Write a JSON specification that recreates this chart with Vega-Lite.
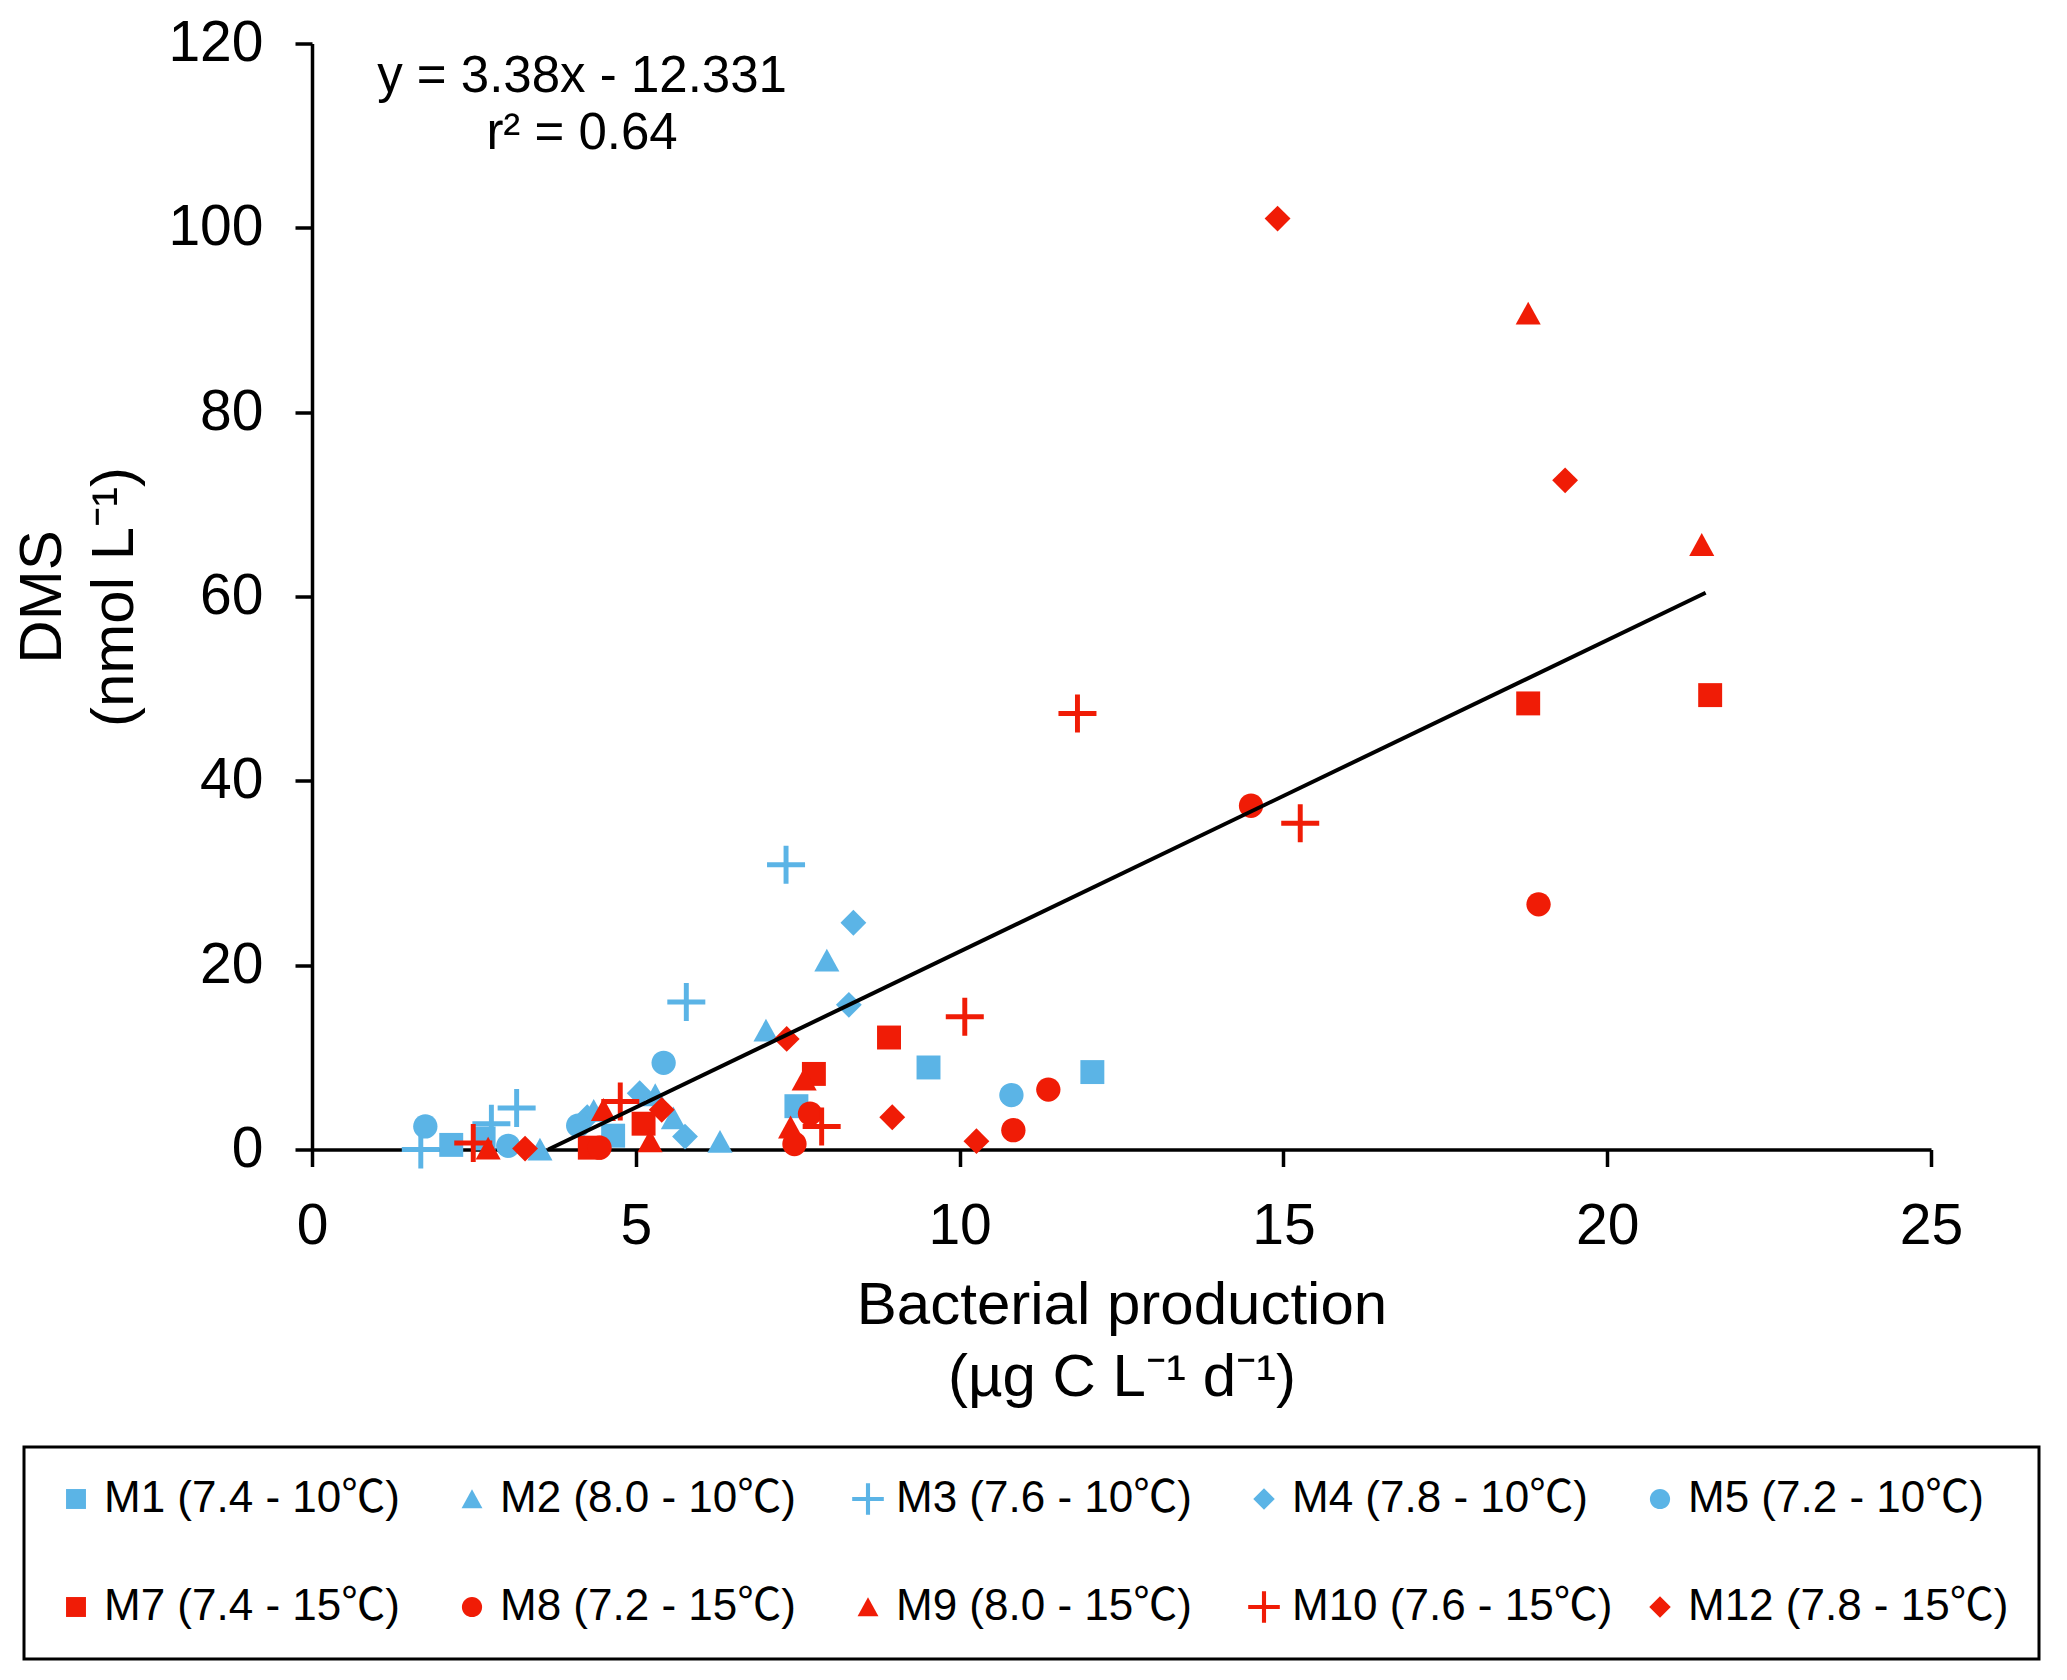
{
  "$schema": "https://vega.github.io/schema/vega-lite/v6.json",
  "width": 1619,
  "height": 1106,
  "autosize": {"type": "none"},
  "padding": {"left": 312, "top": 43.5, "right": 136, "bottom": 530.5},
  "background": "white",
  "config": {
    "font": "Liberation Sans",
    "view": {"stroke": null},
    "legend": {"strokeWidth": 3},
    "axis": {
      "grid": false,
      "labelFlush": false,
      "domainColor": "black",
      "domainWidth": 3.5,
      "tickColor": "black",
      "tickWidth": 3.5,
      "tickSize": 17,
      "labelFont": "Liberation Sans",
      "labelFontSize": 57,
      "labelColor": "black",
      "labelPadding": 32,
      "titleFont": "Liberation Sans",
      "titleFontSize": 60,
      "titleFontWeight": "normal",
      "titleColor": "black"
    }
  },
  "datasets": {
    "points": [
      {"series": "M1 (7.4 - 10℃)", "bp": 2.15, "dms": 0.5},
      {"series": "M1 (7.4 - 10℃)", "bp": 2.65, "dms": 1.2},
      {"series": "M1 (7.4 - 10℃)", "bp": 4.65, "dms": 1.5},
      {"series": "M1 (7.4 - 10℃)", "bp": 7.48, "dms": 4.7},
      {"series": "M1 (7.4 - 10℃)", "bp": 9.52, "dms": 8.9},
      {"series": "M1 (7.4 - 10℃)", "bp": 12.05, "dms": 8.4},
      {"series": "M2 (8.0 - 10℃)", "bp": 3.52, "dms": 0},
      {"series": "M2 (8.0 - 10℃)", "bp": 4.35, "dms": 4.2},
      {"series": "M2 (8.0 - 10℃)", "bp": 5.3, "dms": 5.9},
      {"series": "M2 (8.0 - 10℃)", "bp": 5.58, "dms": 3.4},
      {"series": "M2 (8.0 - 10℃)", "bp": 6.3, "dms": 0.85},
      {"series": "M2 (8.0 - 10℃)", "bp": 7.01, "dms": 12.9},
      {"series": "M2 (8.0 - 10℃)", "bp": 7.95, "dms": 20.5},
      {"series": "M3 (7.6 - 10℃)", "bp": 1.68, "dms": 0},
      {"series": "M3 (7.6 - 10℃)", "bp": 2.77, "dms": 2.8},
      {"series": "M3 (7.6 - 10℃)", "bp": 3.16, "dms": 4.5},
      {"series": "M3 (7.6 - 10℃)", "bp": 5.78, "dms": 16.0},
      {"series": "M3 (7.6 - 10℃)", "bp": 7.32, "dms": 30.9},
      {"series": "M4 (7.8 - 10℃)", "bp": 4.25, "dms": 3.5},
      {"series": "M4 (7.8 - 10℃)", "bp": 5.06, "dms": 6.1},
      {"series": "M4 (7.8 - 10℃)", "bp": 5.76, "dms": 1.4},
      {"series": "M4 (7.8 - 10℃)", "bp": 8.29, "dms": 15.7},
      {"series": "M4 (7.8 - 10℃)", "bp": 8.36, "dms": 24.6},
      {"series": "M5 (7.2 - 10℃)", "bp": 1.75, "dms": 2.5},
      {"series": "M5 (7.2 - 10℃)", "bp": 3.03, "dms": 0.4},
      {"series": "M5 (7.2 - 10℃)", "bp": 4.11, "dms": 2.6},
      {"series": "M5 (7.2 - 10℃)", "bp": 5.43, "dms": 9.4},
      {"series": "M5 (7.2 - 10℃)", "bp": 10.8, "dms": 5.9},
      {"series": "M7 (7.4 - 15℃)", "bp": 4.29, "dms": 0.2},
      {"series": "M7 (7.4 - 15℃)", "bp": 5.12, "dms": 2.8},
      {"series": "M7 (7.4 - 15℃)", "bp": 7.75, "dms": 8.2},
      {"series": "M7 (7.4 - 15℃)", "bp": 8.91, "dms": 12.15},
      {"series": "M7 (7.4 - 15℃)", "bp": 18.78, "dms": 48.4},
      {"series": "M7 (7.4 - 15℃)", "bp": 21.59, "dms": 49.3},
      {"series": "M8 (7.2 - 15℃)", "bp": 4.44, "dms": 0.2},
      {"series": "M8 (7.2 - 15℃)", "bp": 7.45, "dms": 0.6},
      {"series": "M8 (7.2 - 15℃)", "bp": 7.69, "dms": 3.9},
      {"series": "M8 (7.2 - 15℃)", "bp": 10.83, "dms": 2.1},
      {"series": "M8 (7.2 - 15℃)", "bp": 11.37, "dms": 6.5},
      {"series": "M8 (7.2 - 15℃)", "bp": 14.5, "dms": 37.3},
      {"series": "M8 (7.2 - 15℃)", "bp": 18.94, "dms": 26.6},
      {"series": "M9 (8.0 - 15℃)", "bp": 2.72, "dms": 0.1},
      {"series": "M9 (8.0 - 15℃)", "bp": 4.5, "dms": 4.3},
      {"series": "M9 (8.0 - 15℃)", "bp": 5.22, "dms": 0.9},
      {"series": "M9 (8.0 - 15℃)", "bp": 7.39, "dms": 2.4},
      {"series": "M9 (8.0 - 15℃)", "bp": 7.6, "dms": 7.6},
      {"series": "M9 (8.0 - 15℃)", "bp": 18.78, "dms": 90.7},
      {"series": "M9 (8.0 - 15℃)", "bp": 21.46, "dms": 65.6},
      {"series": "M10 (7.6 - 15℃)", "bp": 2.49, "dms": 0.7},
      {"series": "M10 (7.6 - 15℃)", "bp": 4.76, "dms": 5.2},
      {"series": "M10 (7.6 - 15℃)", "bp": 7.87, "dms": 2.5},
      {"series": "M10 (7.6 - 15℃)", "bp": 10.08, "dms": 14.4},
      {"series": "M10 (7.6 - 15℃)", "bp": 11.82, "dms": 47.3},
      {"series": "M10 (7.6 - 15℃)", "bp": 15.26, "dms": 35.4},
      {"series": "M12 (7.8 - 15℃)", "bp": 3.29, "dms": 0.1},
      {"series": "M12 (7.8 - 15℃)", "bp": 5.4, "dms": 4.3},
      {"series": "M12 (7.8 - 15℃)", "bp": 7.33, "dms": 12.0},
      {"series": "M12 (7.8 - 15℃)", "bp": 8.96, "dms": 3.5},
      {"series": "M12 (7.8 - 15℃)", "bp": 10.26, "dms": 0.9},
      {"series": "M12 (7.8 - 15℃)", "bp": 14.91, "dms": 101.0},
      {"series": "M12 (7.8 - 15℃)", "bp": 19.35, "dms": 72.6}
    ],
    "fit": [
      {"bp": 3.648, "dms": 0},
      {"bp": 21.52, "dms": 60.4}
    ]
  },
  "layer": [
    {
      "data": {"name": "points"},
      "mark": {"type": "point", "filled": true, "opacity": 1, "size": 1444, "strokeWidth": 0},
      "encoding": {
        "x": {
          "field": "bp",
          "type": "quantitative",
          "scale": {"domain": [0, 25], "nice": false},
          "axis": {
            "values": [0, 5, 10, 15, 20, 25],
            "format": "d",
            "title": ["Bacterial production", "(µg C L⁻¹ d⁻¹)"],
            "titlePadding": 22,
            "titleLineHeight": 72
          }
        },
        "y": {
          "field": "dms",
          "type": "quantitative",
          "scale": {"domain": [0, 120], "nice": false},
          "axis": {
            "values": [0, 20, 40, 60, 80, 100, 120],
            "format": "d",
            "title": ["DMS", "(nmol L⁻¹)"],
            "titlePadding": 22,
            "titleLineHeight": 72
          }
        },
        "color": {
          "field": "series",
          "type": "nominal",
          "scale": {
            "domain": ["M1 (7.4 - 10℃)", "M7 (7.4 - 15℃)", "M2 (8.0 - 10℃)", "M8 (7.2 - 15℃)", "M3 (7.6 - 10℃)", "M9 (8.0 - 15℃)", "M4 (7.8 - 10℃)", "M10 (7.6 - 15℃)", "M5 (7.2 - 10℃)", "M12 (7.8 - 15℃)"],
            "range": ["#5BB4E6", "#F01C06", "#5BB4E6", "#F01C06", "#5BB4E6", "#F01C06", "#5BB4E6", "#F01C06", "#5BB4E6", "#F01C06"]
          },
          "legend": {
            "title": null,
            "orient": "none",
            "legendX": -288,
            "legendY": 1403.5,
            "columns": 5,
            "padding": 30,
            "strokeColor": "black",
            "symbolSize": 1000,
            "symbolStrokeWidth": 0,
            "labelFont": "Liberation Sans, Noto Sans CJK JP",
            "labelFontSize": 44,
            "labelColor": "black",
            "labelOffset": 6,
            "labelLimit": 0,
            "columnPadding": 25,
            "rowPadding": 64,
            "gridAlign": "all"
          }
        },
        "shape": {
          "field": "series",
          "type": "nominal",
          "scale": {
            "domain": ["M1 (7.4 - 10℃)", "M7 (7.4 - 15℃)", "M2 (8.0 - 10℃)", "M8 (7.2 - 15℃)", "M3 (7.6 - 10℃)", "M9 (8.0 - 15℃)", "M4 (7.8 - 10℃)", "M10 (7.6 - 15℃)", "M5 (7.2 - 10℃)", "M12 (7.8 - 15℃)"],
            "range": [
              "M-0.63,-0.63H0.63V0.63H-0.63Z",
              "M-0.63,-0.63H0.63V0.63H-0.63Z",
              "M0,-0.62L0.66,0.58L-0.66,0.58Z",
              "M0.64,0A0.64,0.64,0,1,1,-0.64,0A0.64,0.64,0,1,1,0.64,0Z",
              "M-0.13,-1H0.13V-0.13H1V0.13H0.13V1H-0.13V0.13H-1V-0.13H-0.13Z",
              "M0,-0.62L0.66,0.58L-0.66,0.58Z",
              "M0,-0.68L0.68,0L0,0.68L-0.68,0Z",
              "M-0.13,-1H0.13V-0.13H1V0.13H0.13V1H-0.13V0.13H-1V-0.13H-0.13Z",
              "M0.64,0A0.64,0.64,0,1,1,-0.64,0A0.64,0.64,0,1,1,0.64,0Z",
              "M0,-0.68L0.68,0L0,0.68L-0.68,0Z"
            ]
          }
        }
      }
    },
    {
      "data": {"name": "fit"},
      "mark": {"type": "line", "color": "black", "strokeWidth": 4},
      "encoding": {
        "x": {"field": "bp", "type": "quantitative"},
        "y": {"field": "dms", "type": "quantitative"}
      }
    },
    {
      "data": {"values": [{}]},
      "mark": {
        "type": "text",
        "text": ["y = 3.38x - 12.331", "r² = 0.64"],
        "font": "Liberation Sans",
        "fontSize": 51,
        "lineHeight": 57,
        "align": "center",
        "baseline": "alphabetic",
        "color": "black"
      },
      "encoding": {
        "x": {"datum": 4.17, "type": "quantitative"},
        "y": {"datum": 114.74, "type": "quantitative"}
      }
    }
  ]
}
